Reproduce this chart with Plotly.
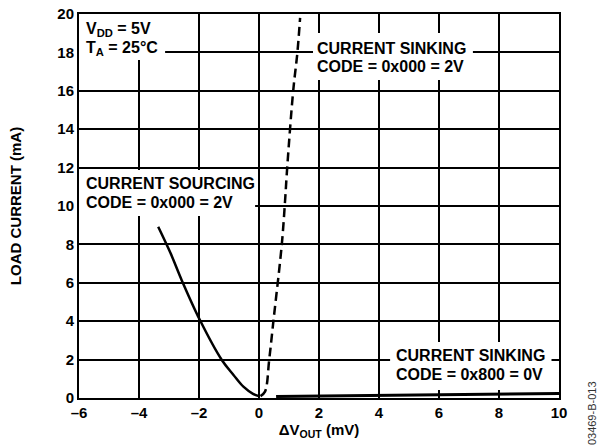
import plotly.graph_objects as go

# ---- data ----
source_x = [-3.36, -2.95, -2.58, -1.97, -1.24, -0.85, -0.52, -0.2, 0.0]
source_y = [8.92, 7.55, 6.15, 4.06, 1.98, 1.2, 0.59, 0.22, 0.1]

sink2v_x = [0.05, 0.2, 0.34, 0.48, 0.76, 0.87, 0.94, 1.14, 1.28, 1.37]
sink2v_y = [0.1, 0.33, 2.0, 4.0, 8.0, 10.3, 12.0, 16.0, 18.0, 19.8]

sink0v_x = [0.57, 2.0, 4.0, 6.0, 8.0, 10.0]
sink0v_y = [0.08, 0.1, 0.14, 0.18, 0.21, 0.24]

x_ticks = [-6, -4, -2, 0, 2, 4, 6, 8, 10]
x_ticktext = ["–6", "–4", "–2", "0", "2", "4", "6", "8", "10"]
y_ticks = [0, 2, 4, 6, 8, 10, 12, 14, 16, 18, 20]
y_ticktext = [str(v) for v in y_ticks]

FONT = "Liberation Sans, Arial, sans-serif"

fig = go.Figure()
fig.add_trace(go.Scatter(x=source_x, y=source_y, mode="lines",
                         line=dict(color="black", width=2.5, shape="spline"),
                         showlegend=False))
fig.add_trace(go.Scatter(x=sink2v_x, y=sink2v_y, mode="lines",
                         line=dict(color="black", width=2.5, dash="9px,5px", shape="spline"),
                         showlegend=False))
fig.add_trace(go.Scatter(x=sink0v_x, y=sink0v_y, mode="lines",
                         line=dict(color="black", width=3),
                         showlegend=False))

# white boxes behind the labels (hide grid lines)
boxes = [(-6.0, -3.13, 17.6, 20.0),
         (-6.0, -0.13, 9.48, 11.875),
         (1.8, 7.13, 16.56, 19.01),
         (4.37, 9.75, 0.42, 2.92)]
for x0, x1, y0, y1 in boxes:
    fig.add_shape(type="rect", x0=x0, x1=x1, y0=y0, y1=y1, xref="x", yref="y",
                  fillcolor="white", line=dict(width=0), layer="between")

labels = [
    (-5.85, 19.17, "V<sub>DD</sub> = 5V"),
    (-5.85, 18.18, "T<sub>A</sub> = 25°C"),
    (-5.85, 11.15, "CURRENT SOURCING"),
    (-5.85, 10.16, "CODE = 0x000 = 2V"),
    (1.87, 18.18, "CURRENT SINKING"),
    (1.87, 17.24, "CODE = 0x000 = 2V"),
    (4.5, 2.19, "CURRENT SINKING"),
    (4.5, 1.25, "CODE = 0x800 = 0V"),
]
for x, y, t in labels:
    fig.add_annotation(x=x, y=y, xref="x", yref="y", text=t, showarrow=False,
                       xanchor="left", yanchor="middle", align="left",
                       font=dict(family=FONT, size=16, color="black", weight="bold"))

fig.add_annotation(x=1.069, y=-0.039, xref="paper", yref="paper", text="03469-B-013",
                   showarrow=False, textangle=-90, xanchor="center", yanchor="middle",
                   font=dict(family=FONT, size=11, color="#333333"))

axis_common = dict(showgrid=True, gridcolor="black", gridwidth=1.5,
                   showline=True, linecolor="black", linewidth=2, mirror=True,
                   zeroline=False, ticks="", automargin=False,
                   ticklabeloverflow="allow",
                   tickfont=dict(family=FONT, size=15, color="black", weight="bold"))

fig.update_xaxes(range=[-6, 10], tickvals=x_ticks, ticktext=x_ticktext,
                 title=dict(text="ΔV<sub>OUT</sub> (mV)", standoff=2,
                            font=dict(family=FONT, size=15, color="black", weight="bold")),
                 **axis_common)
fig.update_yaxes(range=[0, 20], tickvals=y_ticks, ticktext=y_ticktext,
                 title=dict(text="LOAD CURRENT (mA)", standoff=32,
                            font=dict(family=FONT, size=15, color="black", weight="bold")),
                 **axis_common)

fig.update_layout(width=600, height=447,
                  margin=dict(l=79, r=41, t=14, b=49, autoexpand=False),
                  plot_bgcolor="white", paper_bgcolor="white",
                  font=dict(family=FONT, color="black"))

# remove the default page margin so the figure sits at the window's corner
fig.write_html("out.html",
               config={"displayModeBar": False},
               post_script="document.body.style.margin='0';document.body.style.overflow='hidden';")
